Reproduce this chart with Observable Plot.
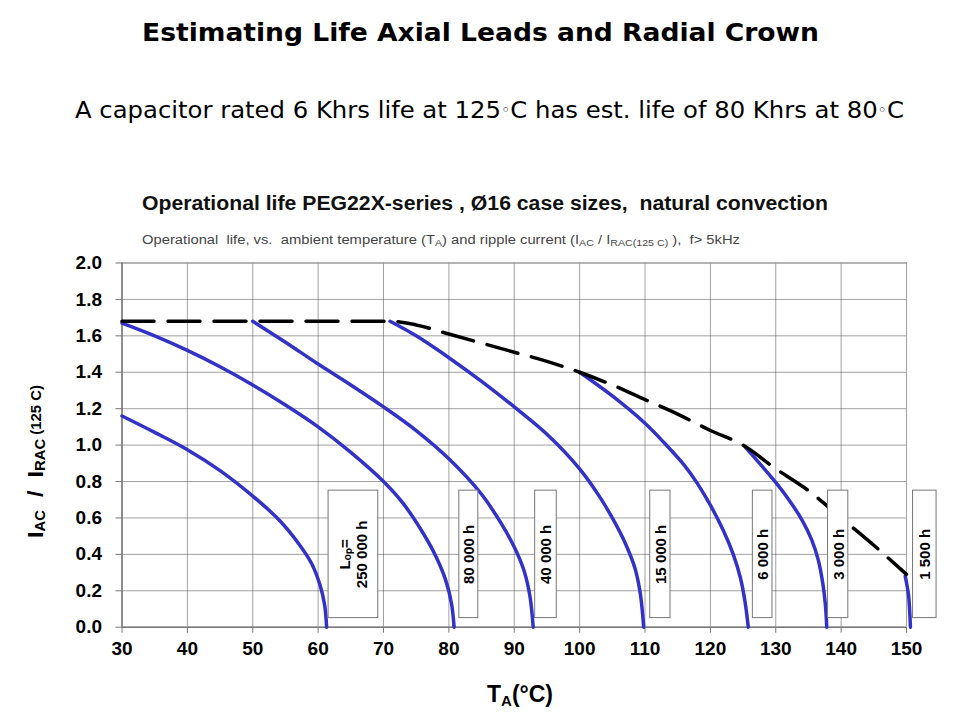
<!DOCTYPE html>
<html>
<head>
<meta charset="utf-8">
<script src="https://cdn.jsdelivr.net/npm/d3@7"></script>
<script src="https://cdn.jsdelivr.net/npm/@observablehq/plot@0.6"></script>
<style>
  body { margin: 0; background: #fff; }
  #wrap { position: relative; width: 960px; height: 720px; overflow: hidden; background: #fff; }
  #wrap > svg { position: absolute; left: 0; top: 0; }
</style>
</head>
<body>
<div id="wrap"></div>
<script>
// ---------- data ----------
const xTicks = [30, 40, 50, 60, 70, 80, 90, 100, 110, 120, 130, 140, 150];
const yTicks = [0, 0.2, 0.4, 0.6, 0.8, 1.0, 1.2, 1.4, 1.6, 1.8, 2.0];

// operational life curves: [ambient temperature °C, I_AC / I_RAC(125 C)]
const life250000 = [[30,1.16],[35,1.07],[40,0.975],[45,0.86],[50,0.72],[54,0.59],[57,0.46],[59,0.35],[60.3,0.23],[61,0.12],[61.3,0]];
const life80000  = [[30,1.67],[35,1.60],[40,1.52],[45,1.43],[50,1.33],[55,1.22],[60,1.10],[65,0.96],[70,0.80],[73,0.68],[76,0.52],[78,0.39],[79.5,0.26],[80.4,0.13],[80.8,0]];
const life40000  = [[50,1.68],[55,1.565],[60,1.445],[65,1.33],[70,1.21],[75,1.08],[80,0.925],[85,0.73],[88,0.57],[90,0.44],[91.5,0.31],[92.4,0.17],[92.9,0]];
const life15000  = [[71,1.68],[75,1.60],[80,1.48],[85,1.35],[90,1.21],[95,1.06],[100,0.87],[103,0.72],[105,0.60],[107,0.46],[108.5,0.32],[109.3,0.18],[109.8,0]];
const life6000   = [[100,1.40],[105,1.27],[110,1.12],[113,1.01],[116,0.89],[118,0.79],[120,0.67],[122,0.53],[123.5,0.40],[124.6,0.27],[125.3,0.14],[125.8,0]];
const life3000   = [[125.3,0.99],[128,0.88],[130,0.795],[132,0.70],[134,0.59],[135.5,0.48],[136.5,0.37],[137.2,0.24],[137.6,0.12],[137.8,0]];
const life1500   = [[149.8,0.28],[150.3,0.18],[150.5,0.08],[150.6,0]];

// maximum ripple current envelope (dashed)
const envelope = [[30,1.68],[71,1.68],[75,1.66],[80,1.61],[85,1.56],[90,1.51],[95,1.46],[100,1.40],[105,1.33],[110,1.25],[115,1.17],[120,1.08],[125,1.00],[130,0.87],[135,0.75],[140,0.60],[145,0.45],[150,0.29]];

const seriesNames  = ["250 000 h", "80 000 h", "40 000 h", "15 000 h", "6 000 h", "3 000 h", "1 500 h"];
const seriesPoints = [life250000, life80000, life40000, life15000, life6000, life3000, life1500];

// label boxes (in chart units)
const boxLabels = ["L\u2092\u209A=\n250 000 h", "80 000 h", "40 000 h", "15 000 h", "6 000 h", "3 000 h", "1 500 h"];
const boxX1 = [61.6, 81.6, 93.2, 110.8, 126.5, 138.0, 151.0];
const boxX2 = [69.2, 84.5, 96.5, 113.9, 129.5, 141.1, 154.6];
const boxY1 = 0.05, boxY2 = 0.75;

// ---------- derived tables ----------
const rows = seriesNames.flatMap((s, i) => seriesPoints[i].map(([T, r]) => ({series: s, T, r})));
const env = envelope.map(([T, r]) => ({T, r}));
const boxes = boxLabels.map((t, i) => ({text: t, x1: boxX1[i], x2: boxX2[i]}));

const blue = "#3232c8";
const chart = Plot.plot({
  width: 960,
  height: 720,
  marginLeft: 121.5,
  marginRight: 54,
  marginTop: 262.5,
  marginBottom: 93.3,
  style: {fontFamily: "'Liberation Sans', Arial, sans-serif", fontSize: "19px", fontWeight: "bold", color: "black", background: "transparent"},
  x: {domain: [30, 150], label: null},
  y: {domain: [0, 2], label: null},
  marks: [
    Plot.gridX(xTicks, {stroke: "#444", strokeOpacity: 1, strokeWidth: 1, strokeDasharray: "1,1"}),
    Plot.gridY(yTicks, {stroke: "#444", strokeOpacity: 1, strokeWidth: 1, strokeDasharray: "1,1"}),
    Plot.ruleY([2], {stroke: "#aaa", strokeWidth: 1.5}),
    Plot.ruleX([30], {stroke: "#777", strokeWidth: 1.5}),
    Plot.ruleY([0], {stroke: "#777", strokeWidth: 1.5}),
    Plot.axisX(xTicks, {tickSize: 6, tickPadding: 8, stroke: "#777", fill: "black", fontSize: 19, fontWeight: "bold", label: null}),
    Plot.axisY(yTicks, {tickSize: 6, tickPadding: 14, stroke: "#777", fill: "black", fontSize: 19, fontWeight: "bold", tickFormat: d => d.toFixed(1), label: null}),
    Plot.line(rows, {x: "T", y: "r", z: "series", stroke: blue, strokeWidth: 3.5, curve: "catmull-rom"}),
    Plot.line(env, {x: "T", y: "r", stroke: "black", strokeWidth: 3.5, strokeDasharray: "32,14", curve: "monotone-x"}),
    Plot.rect(boxes, {x1: "x1", x2: "x2", y1: boxY1, y2: boxY2, fill: "white", stroke: "#777", strokeWidth: 1}),
    Plot.text(boxes, {x: d => (d.x1 + d.x2) / 2, y: (boxY1 + boxY2) / 2, text: "text", rotate: -90, fontSize: 15, fontWeight: "bold", fill: "black", lineHeight: 1.12})
  ]
});
document.getElementById("wrap").appendChild(chart);

// ---------- titles and axis labels ----------
const ov = d3.select("#wrap").append("svg")
  .attr("width", 960).attr("height", 720)
  .style("pointer-events", "none");

function addText(x, y, parts, attrs) {
  const t = ov.append("text").attr("x", x).attr("y", y).style("white-space", "pre");
  Object.entries(attrs).forEach(([k, v]) => t.attr(k, v));
  parts.forEach(p => {
    const ts = t.append("tspan").text(p.t);
    if (p.size) ts.attr("font-size", p.size);
    if (p.dy) ts.attr("dy", p.dy);
  });
  return t;
}

addText(142, 41, [{t: "Estimating Life Axial Leads and Radial Crown"}],
  {"font-family": "'DejaVu Sans', sans-serif", "font-weight": "bold", "font-size": 24, "textLength": 677, "lengthAdjust": "spacingAndGlyphs", fill: "black"});

addText(75, 118, [
  {t: "A capacitor rated 6 Khrs life at 125"},
  {t: "\u25E6", size: 15, dy: -3},
  {t: "C has est. life of 80 Khrs at 80", dy: 3},
  {t: "\u25E6", size: 15, dy: -3},
  {t: "C", dy: 3}
], {"font-family": "'DejaVu Sans Condensed', 'DejaVu Sans', sans-serif", "font-size": 23, "textLength": 829, "lengthAdjust": "spacingAndGlyphs", fill: "black"});

addText(142, 210, [{t: "Operational life PEG22X-series , \u00D816 case sizes,  natural convection"}],
  {"font-family": "'Liberation Sans', Arial, sans-serif", "font-weight": "bold", "font-size": 20, "textLength": 686, "lengthAdjust": "spacingAndGlyphs", fill: "#111"});

addText(142, 244, [
  {t: "Operational  life, vs.  ambient temperature (T"},
  {t: "A", size: 9, dy: 2},
  {t: ") and ripple current (I", dy: -2},
  {t: "AC", size: 9, dy: 2},
  {t: " / I", dy: -2},
  {t: "RAC(125 C)", size: 9, dy: 2},
  {t: " ),  f> 5kHz", dy: -2}
], {"font-family": "'Liberation Sans', Arial, sans-serif", "font-size": 12.5, "textLength": 598, "lengthAdjust": "spacingAndGlyphs", fill: "#444"});

// y-axis label (rotated)
addText(0, 0, [
  {t: "I"},
  {t: "AC", size: 14, dy: 2},
  {t: "  /  I", dy: -2},
  {t: "RAC", size: 14, dy: 2},
  {t: " (125 C)", size: 14, dy: -4}
], {"font-family": "'Liberation Sans', Arial, sans-serif", "font-weight": "bold", "font-size": 22, "textLength": 153, "lengthAdjust": "spacingAndGlyphs", fill: "black", transform: "translate(43,538) rotate(-90)"});

// x-axis label
addText(487, 702, [
  {t: "T"},
  {t: "A", size: 15, dy: 4},
  {t: "(\u00B0C)", dy: -4}
], {"font-family": "'Liberation Sans', Arial, sans-serif", "font-weight": "bold", "font-size": 23, fill: "black"});
</script>
</body>
</html>
